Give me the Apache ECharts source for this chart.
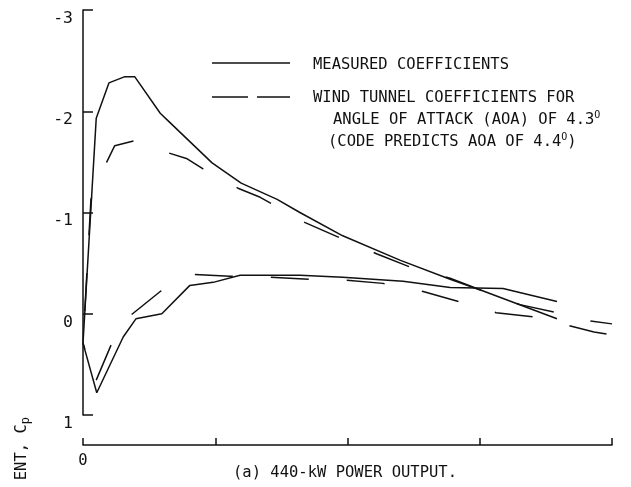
<!DOCTYPE html>
<html>
<head>
<meta charset="utf-8">
<script src="https://cdn.jsdelivr.net/npm/echarts@6/dist/echarts.min.js"></script>
<style>html,body{margin:0;padding:0;background:#fff;}#c{width:631px;height:487px;}</style>
</head>
<body>
<div id="c"></div>
<script>
// ---- data (x/c, Cp) ----
const measuredUpperX  = [0, 0.025, 0.049, 0.078, 0.098, 0.146, 0.164, 0.244, 0.299, 0.367, 0.410, 0.491, 0.599, 0.694, 0.754, 0.896];
const measuredUpperCp = [0.29, -1.93, -2.28, -2.34, -2.34, -1.98, -1.89, -1.49, -1.29, -1.13, -1.00, -0.77, -0.53, -0.34, -0.23, 0.05];

const measuredLowerX  = [0, 0.026, 0.076, 0.100, 0.149, 0.202, 0.246, 0.297, 0.410, 0.491, 0.605, 0.694, 0.794, 0.896];
const measuredLowerCp = [0.29, 0.78, 0.23, 0.05, 0.00, -0.28, -0.31, -0.38, -0.38, -0.36, -0.32, -0.26, -0.25, -0.12];

const windUpperX  = [0, 0.015, 0.045, 0.060, 0.098, 0.161, 0.197, 0.227, 0.293, 0.335, 0.420, 0.490, 0.556, 0.624, 0.694, 0.754, 0.826, 0.896, 0.926, 1.0];
const windUpperCp = [0.29, -1.13, -1.50, -1.66, -1.71, -1.59, -1.53, -1.43, -1.24, -1.15, -0.90, -0.74, -0.59, -0.45, -0.35, -0.23, -0.09, -0.01, 0.05, 0.10];

const windLowerX  = [0, 0.023, 0.070, 0.146, 0.202, 0.278, 0.353, 0.429, 0.499, 0.567, 0.643, 0.711, 0.781, 0.851, 0.966, 1.0];
const windLowerCp = [0.29, 0.68, 0.10, -0.22, -0.39, -0.37, -0.36, -0.34, -0.33, -0.30, -0.22, -0.12, -0.01, 0.03, 0.18, 0.21];

const yTickLabels = ['-3', '-2', '-1', '0', '1'];
const xTickLabels = ['0', '', '', '', ''];

const seriesNames = ['MEASURED COEFFICIENTS', 'WIND TUNNEL COEFFICIENTS FOR'];
const noteLine1 = 'ANGLE OF ATTACK (AOA) OF 4.3';
const noteLine2a = '(CODE PREDICTS AOA OF 4.4';
const noteLine2b = ')';
const degMark = 'O';
const chartCaption = '(a) 440-kW POWER OUTPUT.';
const yAxisNameMain = 'ENT, C';
const yAxisNameSub = 'p';

// ---- chart ----
const FONT = '"DejaVu Sans Mono", "Liberation Mono", monospace';
const FS = 15.5;
const INK = '#111';
const zip = (xs, ys) => xs.map((x, i) => [x, ys[i]]);
const supRich = {
  n: {fontFamily: FONT, fontSize: FS, fill: INK, lineHeight: 20},
  s: {fontFamily: FONT, fontSize: 10, fill: INK, verticalAlign: 'top', lineHeight: 20, padding: [0, 0, 8, 0]}
};

const chart = echarts.init(document.getElementById('c'), null, {renderer: 'canvas'});
chart.setOption({
  animation: false,
  backgroundColor: '#fff',
  grid: {left: 83, right: 19, top: 10, bottom: 72, containLabel: false},
  xAxis: {
    type: 'value', min: 0, max: 1, interval: 0.25, offset: 30,
    axisLine: {show: true, onZero: false, lineStyle: {color: INK, width: 1.5}},
    axisTick: {show: true, inside: true, length: 7, lineStyle: {color: INK, width: 1.5}},
    axisLabel: {
      show: true, margin: 8, color: INK, fontFamily: FONT, fontSize: FS,
      formatter: (v) => { const i = Math.round(v / 0.25); return xTickLabels[i] || ''; }
    },
    splitLine: {show: false}
  },
  yAxis: {
    type: 'value', inverse: true, min: -3, max: 1, interval: 1,
    axisLine: {show: true, onZero: false, lineStyle: {color: INK, width: 1.5}},
    axisTick: {show: true, inside: true, length: 10, lineStyle: {color: INK, width: 1.5}},
    axisLabel: {
      show: true, margin: 10, color: INK, fontFamily: FONT, fontSize: 16.5,
      verticalAlign: 'top',
      formatter: (v) => yTickLabels[Math.round(v) + 3]
    },
    splitLine: {show: false}
  },
  graphic: [
    // legend keys
    {type: 'line', silent: true, shape: {x1: 212, y1: 63, x2: 290, y2: 63}, style: {stroke: INK, lineWidth: 1.5}},
    {type: 'line', silent: true, shape: {x1: 212, y1: 97, x2: 290, y2: 97}, style: {stroke: INK, lineWidth: 1.5, lineDash: [36, 9]}},
    {type: 'text', x: 313, y: 65, silent: true,
     style: {text: seriesNames[0], fontFamily: FONT, fontSize: FS, fill: INK, verticalAlign: 'middle'}},
    {type: 'text', x: 313, y: 98, silent: true,
     style: {text: seriesNames[1], fontFamily: FONT, fontSize: FS, fill: INK, verticalAlign: 'middle'}},
    {type: 'text', left: 333, top: 110, silent: true,
     style: {rich: supRich, text: '{n|' + noteLine1 + '}{s|' + degMark + '}'}},
    {type: 'text', left: 328, top: 132, silent: true,
     style: {rich: supRich, text: '{n|' + noteLine2a + '}{s|' + degMark + '}{n|' + noteLine2b + '}'}},
    // caption
    {type: 'text', x: 345, y: 473, silent: true,
     style: {text: chartCaption, fontFamily: FONT, fontSize: FS, fill: INK, align: 'center', verticalAlign: 'middle'}},
    // clipped y-axis name
    {type: 'text', x: 22, y: 417, rotation: Math.PI / 2, silent: true,
     style: {rich: {n: {fontFamily: FONT, fontSize: FS, fill: INK, lineHeight: 20}, s: {fontFamily: FONT, fontSize: 12, fill: INK, padding: [8, 0, 0, 0], lineHeight: 20}},
             text: '{n|' + yAxisNameMain + '}{s|' + yAxisNameSub + '}', align: 'right', verticalAlign: 'middle'}}
  ],
  series: [
    {name: seriesNames[0], type: 'line', data: zip(measuredUpperX, measuredUpperCp), symbol: 'none', smooth: false,
     lineStyle: {color: INK, width: 1.5, type: 'solid'}, itemStyle: {color: INK}, z: 3},
    {name: seriesNames[0], type: 'line', data: zip(measuredLowerX, measuredLowerCp), symbol: 'none', smooth: false,
     lineStyle: {color: INK, width: 1.5, type: 'solid'}, itemStyle: {color: INK}, z: 3},
    {name: seriesNames[1], type: 'line', data: zip(windUpperX, windUpperCp), symbol: 'none', smooth: false,
     lineStyle: {color: INK, width: 1.5, type: [38, 38], dashOffset: 44}, itemStyle: {color: INK}, z: 2},
    {name: seriesNames[1], type: 'line', data: zip(windLowerX, windLowerCp), symbol: 'none', smooth: false,
     lineStyle: {color: INK, width: 1.5, type: [38, 38], dashOffset: 32}, itemStyle: {color: INK}, z: 2}
  ]
});
</script>
</body>
</html>
